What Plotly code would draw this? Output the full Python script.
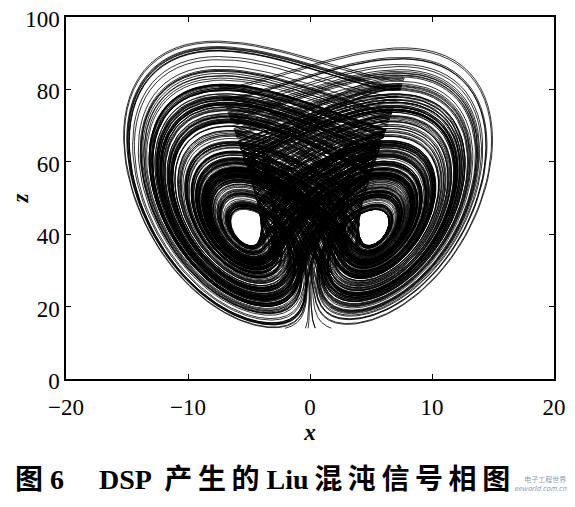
import numpy as np
import plotly.graph_objects as go

# Liu chaotic system parameters (the DSP-generated signal in the figure)
param_a = 10.0
param_b = 40.0
param_c = 2.5
param_k = 1.0
param_h = 4.0
initial_states = [[2.2, 2.4, 38.0], [-3.0, 1.0, 45.0], [5.0, -2.0, 30.0],
                  [-6.0, -6.5, 50.0], [1.0, 3.0, 60.0], [-2.0, -4.0, 25.0]]
time_step = 0.001
steps_total = 420000
steps_per_run = 150000
n_transient = 2000
keep_every = 4
x_limit = 16.0      # the plotted runs stay inside |x| < 16
z_floor = 14.0      # and above z = 14

x_ticks = [-20, -10, 0, 10, 20]
z_ticks = [0, 20, 40, 60, 80, 100]
x_label = "x"
z_label = "z"
caption = "图 6 \u2003DSP  产\u2009生\u2009的 Liu\u2009混\u2009沌\u2009信\u2009号\u2009相\u2009图"
watermark = "电子工程世界<br><i>eeworld.com.cn</i>"


def deriv(x, y, z):
    return (param_a * (y - x),
            param_b * x - param_k * x * z,
            -param_c * z + param_h * x * x)


dt = time_step
xs, zs = [], []
used = 0
for init in initial_states:
    if used >= steps_total:
        break
    x, y, z = init
    for i in range(steps_per_run):
        used += 1
        a1, b1, c1 = deriv(x, y, z)
        a2, b2, c2 = deriv(x + 0.5 * dt * a1, y + 0.5 * dt * b1, z + 0.5 * dt * c1)
        a3, b3, c3 = deriv(x + 0.5 * dt * a2, y + 0.5 * dt * b2, z + 0.5 * dt * c2)
        a4, b4, c4 = deriv(x + dt * a3, y + dt * b3, z + dt * c3)
        x += dt / 6.0 * (a1 + 2 * a2 + 2 * a3 + a4)
        y += dt / 6.0 * (b1 + 2 * b2 + 2 * b3 + b4)
        z += dt / 6.0 * (c1 + 2 * c2 + 2 * c3 + c4)
        if i >= n_transient:
            if abs(x) > x_limit or z < z_floor:
                break
            if i % keep_every == 0:
                xs.append(x)
                zs.append(z)
    xs.append(None)
    zs.append(None)

serif = "Liberation Serif, Noto Sans CJK SC, serif"

fig = go.Figure()
fig.add_trace(go.Scatter(x=xs, y=zs, mode="lines",
                         line=dict(color="black", width=0.8),
                         hoverinfo="skip", showlegend=False))

axis_common = dict(showgrid=False, zeroline=False, showline=True, linecolor="black",
                   linewidth=1.5, mirror="ticks", ticks="inside", ticklen=5,
                   tickwidth=1.2, tickcolor="black", automargin=False,
                   ticklabeloverflow="allow",
                   tickfont=dict(family=serif, size=23, color="black"))

fig.update_layout(
    width=567, height=499,
    margin=dict(l=58, r=21, t=9, b=128),
    paper_bgcolor="white", plot_bgcolor="white",
    xaxis=dict(range=[-20, 20], tickvals=x_ticks, ticklabelstandoff=7, **axis_common,
               title=dict(text="<b><i>" + x_label + "</i></b>", standoff=0,
                          font=dict(family=serif, size=23, color="black"))),
    yaxis=dict(range=[0, 100], tickvals=z_ticks, ticklabelshift=2, **axis_common,
               title=dict(text="<b><i>" + z_label + "</i></b>", standoff=26,
                          font=dict(family=serif, size=23, color="black"))),
    annotations=[
        dict(text="<b>" + caption + "</b>", x=-0.1086, y=-0.279, xref="paper", yref="paper",
             xanchor="left", yanchor="middle", showarrow=False,
             font=dict(family=serif, size=28, color="black")),
        dict(text=watermark, x=1.03, y=-0.29,
             xref="paper", yref="paper", xanchor="right", yanchor="middle",
             showarrow=False, align="right",
             font=dict(family="Noto Sans CJK SC", size=7, color="#8aa0b8")),
    ],
)
fig.write_html("out.html")
